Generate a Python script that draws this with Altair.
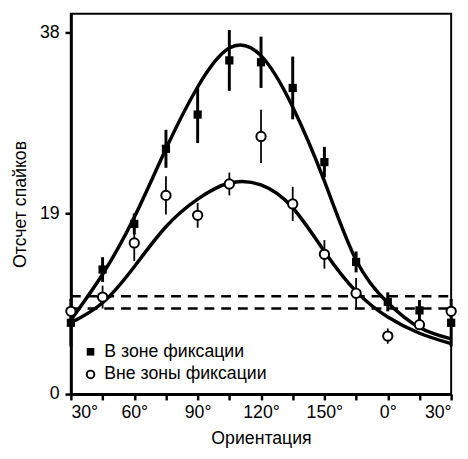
import altair as alt
import pandas as pd

# Orientation grid (degrees, 180 shown as 0°, 210 as 30°)
angles = [30, 45, 60, 75, 90, 105, 120, 135, 150, 165, 180, 195, 210]

# Measured responses
in_zone = [7.5, 13.1, 17.9, 25.8, 29.4, 35.1, 34.9, 32.2, 24.4, 13.9, 9.7, 8.8, 7.5]
in_err = [2.5, 1.3, 1.1, 2.0, 3.0, 3.2, 2.7, 3.3, 1.6, 1.1, 1.0, 1.1, 2.5]
out_zone = [8.7, 10.2, 15.9, 20.9, 18.8, 22.1, 27.1, 20.0, 14.7, 10.6, 6.1, 7.3, 8.7]
out_err = [0.8, 1.2, 1.9, 2.0, 1.3, 1.2, 2.8, 1.8, 1.5, 1.6, 0.8, 0.5, 0.8]

# Fitted tuning curves
fit_in = [7.8, 12.6, 18.6, 25.8, 32.3, 36.4, 35.6, 30.2, 22.4, 14.1, 9.6, 7.0, 5.8]
fit_out = [7.5, 9.6, 13.4, 17.6, 20.5, 22.2, 22.0, 19.6, 15.0, 10.8, 8.1, 6.4, 5.3]

# Baseline levels (dashed)
baselines = [10.3, 9.0]
baseline_x0 = [30, 30]
baseline_x1 = [210, 210]

legend_labels = ["В зоне фиксации", "Вне зоны фиксации"]

FONT = "Liberation Sans, Arial, sans-serif"

pts = pd.DataFrame({
    "angle": angles,
    "in": in_zone,
    "in_lo": [v - e for v, e in zip(in_zone, in_err)],
    "in_hi": [v + e for v, e in zip(in_zone, in_err)],
    "out": out_zone,
    "out_lo": [v - e for v, e in zip(out_zone, out_err)],
    "out_hi": [v + e for v, e in zip(out_zone, out_err)],
    "fit_in": fit_in,
    "fit_out": fit_out,
})
base_df = pd.DataFrame({"level": baselines, "x0": baseline_x0, "x1": baseline_x1})

xscale = alt.Scale(domain=[30, 210], nice=False, zero=False)
yscale = alt.Scale(domain=[0, 40], nice=False, zero=True)

xaxis = alt.Axis(
    values=angles,
    labelExpr="datum.value % 30 == 0 ? (datum.value % 180) + '°' : ''",
    title="Ориентация",
    grid=False,
)
yaxis = alt.Axis(values=[0, 19, 38], title="Отсчет спайков", grid=False)


def X(field):
    return alt.X(f"{field}:Q", scale=xscale, axis=xaxis)


def Y(field):
    return alt.Y(f"{field}:Q", scale=yscale, axis=yaxis)


base = alt.Chart(pts)

curve_in = base.mark_line(color="black", strokeWidth=3.5, interpolate="natural").encode(
    x=X("angle"), y=Y("fit_in"))
curve_out = base.mark_line(color="black", strokeWidth=3.5, interpolate="natural").encode(
    x=X("angle"), y=Y("fit_out"))

dashes = alt.Chart(base_df).mark_rule(color="black", strokeWidth=2.5, strokeDash=[10, 7]).encode(
    x=X("x0"), x2="x1", y=Y("level"))

err_in = base.mark_rule(color="black", strokeWidth=3).encode(
    x=X("angle"), y=Y("in_lo"), y2="in_hi")
err_out = base.mark_rule(color="black", strokeWidth=1.8).encode(
    x=X("angle"), y=Y("out_lo"), y2="out_hi")

pts_in = base.mark_point(shape="square", filled=True, color="black", size=70, opacity=1).encode(
    x=X("angle"), y=Y("in"))
pts_out = base.mark_point(shape="circle", filled=True, fill="white", stroke="black",
                          strokeWidth=2, size=90, opacity=1).encode(
    x=X("angle"), y=Y("out"))

leg_df = pd.DataFrame({"k": [0]})
leg = alt.Chart(leg_df)
leg_sq = leg.mark_point(shape="square", filled=True, color="black", size=60, opacity=1).encode(
    x=alt.value(20), y=alt.value(344))
leg_ci = leg.mark_point(shape="circle", filled=True, fill="white", stroke="black",
                        strokeWidth=2, size=60, opacity=1).encode(
    x=alt.value(20), y=alt.value(367))
leg_t1 = leg.mark_text(align="left", baseline="middle", font=FONT, fontSize=18, color="black").encode(
    x=alt.value(34), y=alt.value(344), text=alt.value(legend_labels[0]))
leg_t2 = leg.mark_text(align="left", baseline="middle", font=FONT, fontSize=18, color="black").encode(
    x=alt.value(34), y=alt.value(367), text=alt.value(legend_labels[1]))

chart = alt.layer(
    dashes, curve_in, curve_out, err_in, err_out, pts_in, pts_out,
    leg_sq, leg_ci, leg_t1, leg_t2,
).properties(
    width=387, height=387,
    autosize=alt.AutoSizeParams(type="none"),
    padding={"left": 64, "top": 2, "right": 9, "bottom": 52},
    background="white",
).configure_view(
    stroke="black", strokeWidth=2,
).configure_axis(
    domainColor="black", domainWidth=3, tickColor="black", tickWidth=2.5, tickSize=6,
    labelFont=FONT, labelFontSize=18, labelColor="black",
    titleFont=FONT, titleFontSize=18, titleFontWeight="normal", titleColor="black",
).configure_axisX(
    labelPadding=4, titlePadding=8,
).configure_axisY(
    labelPadding=6, titlePadding=10,
)

chart.save("out.html", embed_options={"renderer": "svg", "actions": False})
